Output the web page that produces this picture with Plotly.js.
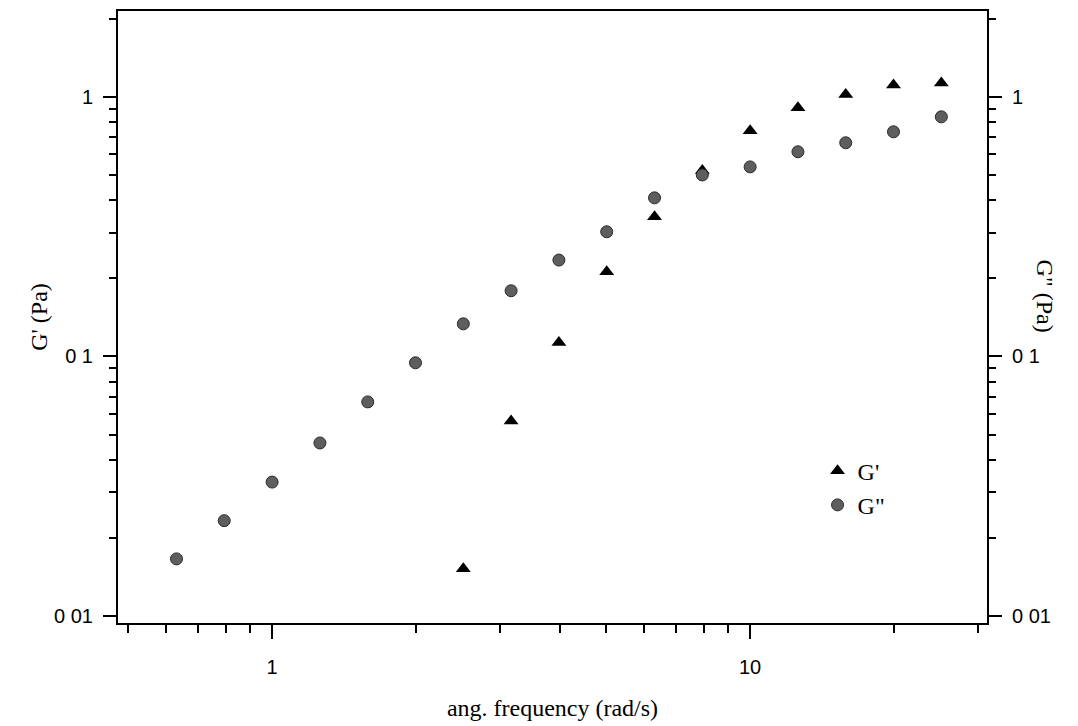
<!DOCTYPE html>
<html>
<head>
<meta charset="utf-8">
<script src="https://cdn.plot.ly/plotly-3.0.1.min.js"></script>
<style>html,body{margin:0;padding:0;background:#fff;}#chart{width:1078px;height:726px;}</style>
</head>
<body>
<div id="chart"></div>
<script>
// angular frequency (rad/s)
var freqGp = [2.512, 3.162, 3.981, 5.012, 6.310, 7.943, 10.0, 12.59, 15.85, 19.95, 25.12];
var Gprime = [0.0152, 0.0564, 0.113, 0.212, 0.345, 0.52, 0.74, 0.907, 1.02, 1.11, 1.13];
var freqGpp = [0.631, 0.794, 1.0, 1.259, 1.585, 1.995, 2.512, 3.162, 3.981, 5.012, 6.310, 7.943, 10.0, 12.59, 15.85, 19.95, 25.12];
var Gdouble = [0.0166, 0.0233, 0.0328, 0.0464, 0.0668, 0.0945, 0.1335, 0.179, 0.235, 0.302, 0.408, 0.50, 0.537, 0.614, 0.665, 0.733, 0.837];

var xMajorVals = [1, 10];
var xMajorText = ["1", "10"];
var xMinorVals = [0.5, 0.6, 0.7, 0.8, 0.9, 2, 3, 4, 5, 6, 7, 8, 9, 20, 30];
var yMajorVals = [0.01, 0.1, 1];
var yMajorText = ["0 01", "0 1", "1"];
var yMinorVals = [0.02, 0.03, 0.04, 0.05, 0.06, 0.07, 0.08, 0.09, 0.2, 0.3, 0.4, 0.5, 0.6, 0.7, 0.8, 0.9, 2];

var xRange = [Math.log10(0.476), Math.log10(31.3)];
var yRange = [Math.log10(0.0094), Math.log10(2.14)];

var tickFont = {family: 'Liberation Sans, Arial, sans-serif', size: 20, color: '#000'};
var serif = 'Liberation Serif, Times New Roman, serif';

var traces = [
  {x: freqGp, y: Gprime, name: "G'", type: 'scatter', mode: 'markers', xaxis: 'x', yaxis: 'y',
   marker: {symbol: 'triangle-up', size: 13, color: '#000'}, legendgroup: 'a'},
  {x: freqGpp, y: Gdouble, name: 'G"', type: 'scatter', mode: 'markers', xaxis: 'x', yaxis: 'y2',
   marker: {symbol: 'circle', size: 12, color: '#5e5e5e', line: {color: '#2a2a2a', width: 1}}, legendgroup: 'b'}
];

var layout = {
  width: 1078, height: 726,
  margin: {l: 118, r: 91, t: 11, b: 103},
  paper_bgcolor: '#fff', plot_bgcolor: '#fff',
  showlegend: true,
  legend: {x: 0.805, y: 0.285, xanchor: 'left', yanchor: 'top', bgcolor: 'rgba(0,0,0,0)',
    font: {family: serif, size: 24, color: '#000'}, traceorder: 'grouped', tracegroupgap: 0},
  xaxis: {
    type: 'log', range: xRange, showgrid: false, zeroline: false,
    showline: true, linecolor: '#000', linewidth: 2, mirror: true,
    tickmode: 'array', tickvals: xMajorVals, ticktext: xMajorText,
    ticks: 'outside', ticklen: 14, tickwidth: 2, tickcolor: '#000', ticklabelstandoff: 11,
    minor: {tickmode: 'array', tickvals: xMinorVals, ticks: 'outside', ticklen: 8, tickwidth: 2, tickcolor: '#000', showgrid: false},
    tickfont: tickFont,
    title: {text: 'ang. frequency (rad/s)', font: {family: serif, size: 24, color: '#000'}, standoff: 22},
    automargin: false
  },
  yaxis: {
    type: 'log', range: yRange, showgrid: false, zeroline: false,
    showline: true, linecolor: '#000', linewidth: 2, mirror: false,
    tickmode: 'array', tickvals: yMajorVals, ticktext: yMajorText,
    ticks: 'outside', ticklen: 13, tickwidth: 2, tickcolor: '#000', ticklabelstandoff: 6,
    minor: {tickmode: 'array', tickvals: yMinorVals, ticks: 'outside', ticklen: 7, tickwidth: 2, tickcolor: '#000', showgrid: false},
    tickfont: tickFont,
    title: {text: "G' (Pa)", font: {family: serif, size: 24, color: '#000'}, standoff: 0},
    automargin: false
  },
  yaxis2: {
    type: 'log', range: yRange, overlaying: 'y', side: 'right', showgrid: false, zeroline: false,
    showline: true, linecolor: '#000', linewidth: 2,
    tickmode: 'array', tickvals: yMajorVals, ticktext: yMajorText,
    ticks: 'outside', ticklen: 13, tickwidth: 2, tickcolor: '#000', ticklabelstandoff: 6,
    minor: {tickmode: 'array', tickvals: yMinorVals, ticks: 'outside', ticklen: 7, tickwidth: 2, tickcolor: '#000', showgrid: false},
    tickfont: tickFont,
    automargin: false
  },
  annotations: [
    {text: 'G" (Pa)', xref: 'paper', yref: 'paper', x: 1.0, y: 0.535, xanchor: 'center', yanchor: 'middle',
     xshift: 1045 - 987, textangle: 90, showarrow: false, font: {family: serif, size: 24, color: '#000'}}
  ]
};

Plotly.newPlot('chart', traces, layout, {staticPlot: true, displayModeBar: false});
</script>
</body>
</html>
